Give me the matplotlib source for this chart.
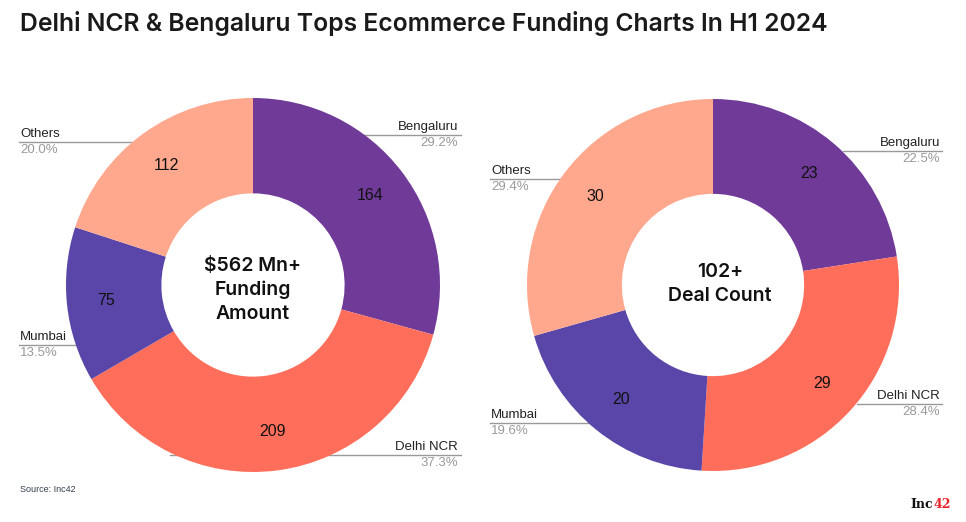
import matplotlib
matplotlib.use('Agg')
import matplotlib.pyplot as plt

# data
cities = ['Bengaluru', 'Delhi NCR', 'Mumbai', 'Others']
funding = [164, 209, 75, 112]
deals = [23, 29, 20, 30]
funding_pct = ['29.2%', '37.3%', '13.5%', '20.0%']
deals_pct = ['22.5%', '28.4%', '19.6%', '29.4%']
colors = ['#6F3A98', '#FF6E5A', '#5A46A8', '#FFA88E']

W, H = 966, 522
fig = plt.figure(figsize=(W / 100, H / 100), dpi=100)
ax = fig.add_axes([0, 0, 1, 1])


def Y(py):
    # pixel row from top -> data y
    return H - py


def donut(vals, cx, cy, r):
    total = sum(vals)
    ax.pie(vals, colors=colors, startangle=90, counterclock=False,
           center=(cx, Y(cy)), radius=r,
           wedgeprops=dict(width=r * 0.51, linewidth=0),
           autopct=lambda p: f'{round(p * total / 100)}', pctdistance=0.79,
           textprops=dict(fontsize=11.5, color='#111111', family='Liberation Sans'))


lbl = dict(fontsize=9.5, color='#222222', family='Liberation Sans')
pct = dict(fontsize=9.5, color='#9a9a9a', family='Liberation Sans')


def callout(name, p, x, ly, x0, x1, ha):
    ax.plot([x0, x1], [Y(ly), Y(ly)], color='#999999', lw=1, zorder=0.5)
    ax.text(x, Y(ly - 2), name, ha=ha, va='bottom', **lbl)
    ax.text(x, Y(ly + 2), p, ha=ha, va='top', **pct)


# left donut leader lines (drawn under the pie)
callout(cities[0], funding_pct[0], 458, 135, 363, 461, 'right')
callout(cities[1], funding_pct[1], 458, 455, 170, 461, 'right')
callout(cities[2], funding_pct[2], 20, 345, 19, 100, 'left')
callout(cities[3], funding_pct[3], 20, 142, 19, 140, 'left')

# right donut
callout(cities[0], deals_pct[0], 940, 151, 843, 942, 'right')
callout(cities[1], deals_pct[1], 940, 404, 857, 942, 'right')
callout(cities[2], deals_pct[2], 491, 423, 490, 592, 'left')
callout(cities[3], deals_pct[3], 491, 179, 490, 565, 'left')

donut(funding, 253, 285, 187)
donut(deals, 713, 285, 186)

ax.text(253, Y(290), '$562 Mn+\nFunding\nAmount', ha='center', va='center',
        fontsize=14, fontweight='semibold', family='Inter', linespacing=1.42, color='#111111')
ax.text(720, Y(284), '102+\nDeal Count', ha='center', va='center',
        fontsize=14, fontweight='semibold', family='Inter', linespacing=1.42, color='#111111')

ax.set_xlim(0, W)
ax.set_ylim(0, H)
ax.axis('off')

fig.text(20 / W, 1 - 24 / H, 'Delhi NCR & Bengaluru Tops Ecommerce Funding Charts In H1 2024',
         ha='left', va='center', fontsize=17.8, fontweight='semibold', family='Inter', color='#1a1a1a')
fig.text(20 / W, 1 - 489 / H, 'Source: Inc42', ha='left', va='center',
         fontsize=6.5, color='#333f4f', family='Liberation Sans')
fig.text(910 / W, 1 - 505 / H, 'Inc', ha='left', va='center', fontsize=9,
         fontweight='bold', family='DejaVu Serif', color='#111111')
fig.text(933 / W, 1 - 505 / H, '42', ha='left', va='center', fontsize=9,
         fontweight='bold', family='DejaVu Serif', color='#e8202a')

plt.savefig('out.png', dpi=100)
